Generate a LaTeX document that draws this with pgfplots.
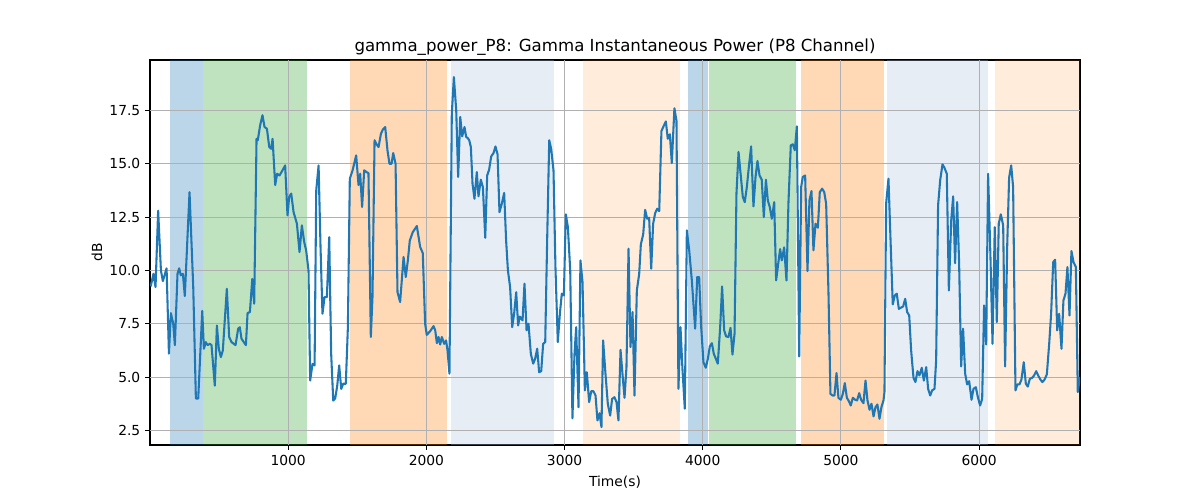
\documentclass[border=0pt]{standalone}
\usepackage{fontspec}
\setmainfont{DejaVu Sans}
\usepackage{pgfplots}
\pgfplotsset{compat=1.18}
\definecolor{tabblue}{RGB}{31,119,180}
\definecolor{tabgreen}{RGB}{44,160,44}
\definecolor{taborange}{RGB}{255,127,14}
\definecolor{lsteel}{RGB}{176,196,222}
\definecolor{gridgray}{RGB}{176,176,176}
\begin{document}
\begin{tikzpicture}
\path[use as bounding box] (0,0) rectangle (12in,5in);
\begin{axis}[
  at={(1.5in,0.55in)}, anchor=south west,
  width=9.3in, height=3.85in, scale only axis,
  xmin=0, xmax=6730, ymin=1.82, ymax=19.86,
  xtick={1000,2000,3000,4000,5000,6000},
  ytick={2.5,5,7.5,10,12.5,15,17.5},
  /pgf/number format/assume math mode=true,
  xticklabel style={/pgf/number format/1000 sep={}},
  yticklabel style={/pgf/number format/fixed,/pgf/number format/fixed zerofill,/pgf/number format/precision=1},
  ticklabel style={font=\fontsize{10}{12}\selectfont},
  tick align=outside, tick pos=left,
  major tick length=3.5pt,
  tick style={black, line width=0.8pt},
  axis line style={black, line width=0.8pt},
  grid=major, grid style={gridgray, line width=0.8pt},
  title={gamma\_power\_P8: Gamma Instantaneous Power (P8 Channel)},
  title style={at={(axis description cs:0.5,1.0)}, anchor=base, yshift=0pt, inner sep=0pt, font=\fontsize{12}{14}\selectfont},
  xlabel={Time(s)},
  xlabel style={at={(axis description cs:0.5,-0.1065)}, anchor=base, inner sep=0pt, font=\fontsize{10}{12}\selectfont},
  ylabel={dB},
  ylabel style={at={(axis description cs:-0.057,0.5)}, anchor=center, inner sep=0pt, font=\fontsize{10}{12}\selectfont},
]
\addplot[fill=tabblue, fill opacity=0.3, draw=none] coordinates {(146,1.82) (146,19.86) (386,19.86) (386,1.82)};
\addplot[fill=tabgreen, fill opacity=0.3, draw=none] coordinates {(386,1.82) (386,19.86) (1139,19.86) (1139,1.82)};
\addplot[fill=taborange, fill opacity=0.3, draw=none] coordinates {(1449,1.82) (1449,19.86) (2148,19.86) (2148,1.82)};
\addplot[fill=lsteel, fill opacity=0.3, draw=none] coordinates {(2177,1.82) (2177,19.86) (2925,19.86) (2925,1.82)};
\addplot[fill=taborange, fill opacity=0.15, draw=none] coordinates {(3134,1.82) (3134,19.86) (3836,19.86) (3836,1.82)};
\addplot[fill=tabblue, fill opacity=0.3, draw=none] coordinates {(3896,1.82) (3896,19.86) (4037,19.86) (4037,1.82)};
\addplot[fill=tabgreen, fill opacity=0.3, draw=none] coordinates {(4044,1.82) (4044,19.86) (4674,19.86) (4674,1.82)};
\addplot[fill=taborange, fill opacity=0.3, draw=none] coordinates {(4712,1.82) (4712,19.86) (5310,19.86) (5310,1.82)};
\addplot[fill=lsteel, fill opacity=0.3, draw=none] coordinates {(5334,1.82) (5334,19.86) (6063,19.86) (6063,1.82)};
\addplot[fill=taborange, fill opacity=0.15, draw=none] coordinates {(6116,1.82) (6116,19.86) (6730,19.86) (6730,1.82)};
% grid lines redrawn above the spans, below the data line
\addplot[gridgray, line width=0.8pt] coordinates {(1000,1.82) (1000,19.86)};
\addplot[gridgray, line width=0.8pt] coordinates {(2000,1.82) (2000,19.86)};
\addplot[gridgray, line width=0.8pt] coordinates {(3000,1.82) (3000,19.86)};
\addplot[gridgray, line width=0.8pt] coordinates {(4000,1.82) (4000,19.86)};
\addplot[gridgray, line width=0.8pt] coordinates {(5000,1.82) (5000,19.86)};
\addplot[gridgray, line width=0.8pt] coordinates {(6000,1.82) (6000,19.86)};
\addplot[gridgray, line width=0.8pt] coordinates {(0,2.5) (6730,2.5)};
\addplot[gridgray, line width=0.8pt] coordinates {(0,5) (6730,5)};
\addplot[gridgray, line width=0.8pt] coordinates {(0,7.5) (6730,7.5)};
\addplot[gridgray, line width=0.8pt] coordinates {(0,10) (6730,10)};
\addplot[gridgray, line width=0.8pt] coordinates {(0,12.5) (6730,12.5)};
\addplot[gridgray, line width=0.8pt] coordinates {(0,15) (6730,15)};
\addplot[gridgray, line width=0.8pt] coordinates {(0,17.5) (6730,17.5)};
\addplot[tabblue, line width=1.5pt, line join=round, mark=none] coordinates {
(5,9.25) (25,9.84) (40,9.22) (59,12.8) (79,10.0) (93,9.5) (120,10.1) (137,6.1) (151,8.0) (168,7.5)
(180,6.5) (199,9.84) (211,10.1) (223,9.77) (238,9.84) (252,8.8) (286,13.67) (313,9.2) (332,4.0) (349,4.0)
(378,8.1) (390,6.33) (404,6.64) (416,6.5) (433,6.56) (445,6.5) (469,4.6) (484,7.42) (498,6.33) (513,5.94)
(527,6.25) (556,9.14) (573,6.88) (590,6.64) (619,6.5) (638,7.27) (650,7.34) (662,6.8) (694,6.5) (706,8.0)
(723,8.05) (740,9.6) (754,8.44) (771,16.17) (780,16.1) (797,16.8) (814,17.27) (829,16.72) (846,16.64) (863,15.78)
(877,15.7) (887,16.17) (906,14.0) (920,14.53) (937,14.45) (959,14.69) (978,14.92) (995,12.58) (1007,13.44) (1022,13.6)
(1039,12.73) (1063,12.19) (1082,10.86) (1099,12.11) (1116,11.33) (1130,10.94) (1147,10.0) (1159,4.84) (1176,5.62) (1191,5.55)
(1203,13.75) (1220,14.92) (1234,11.1) (1248,7.97) (1263,8.75) (1280,8.75) (1297,11.56) (1311,6.1) (1326,3.9) (1340,4.0)
(1355,4.6) (1369,5.55) (1384,4.45) (1398,4.69) (1417,4.69) (1432,7.34) (1446,14.3) (1466,14.69) (1492,15.39) (1509,14.0)
(1521,14.53) (1535,12.97) (1550,14.69) (1569,14.6) (1581,14.56) (1598,6.88) (1610,8.75) (1625,16.1) (1637,15.94) (1654,15.78)
(1671,16.4) (1685,16.6) (1702,16.72) (1719,15.6) (1733,15.0) (1748,15.0) (1760,15.5) (1777,15.0) (1791,8.98) (1810,8.52)
(1835,10.63) (1851,9.69) (1866,10.47) (1880,11.4) (1902,11.8) (1931,12.08) (1955,11.1) (1974,10.81) (1991,7.5) (2003,6.98)
(2028,7.16) (2052,7.39) (2064,7.19) (2076,6.59) (2088,6.88) (2100,6.53) (2112,6.88) (2129,6.56) (2143,6.72) (2153,6.25)
(2167,5.16) (2184,17.34) (2199,19.06) (2216,17.5) (2230,14.38) (2245,17.19) (2259,16.28) (2276,16.72) (2288,16.25) (2300,16.2)
(2310,16.1) (2322,15.78) (2334,14.06) (2348,13.36) (2365,14.61) (2377,13.47) (2394,14.25) (2409,13.9) (2426,11.53) (2440,14.45)
(2454,14.72) (2469,15.34) (2486,15.5) (2500,15.81) (2515,15.44) (2529,12.73) (2546,13.13) (2563,13.63) (2577,11.41) (2590,10.0)
(2606,9.22) (2621,7.34) (2635,7.97) (2650,8.98) (2664,7.42) (2676,7.84) (2696,7.66) (2710,9.38) (2725,7.19) (2739,7.5)
(2756,6.09) (2773,5.63) (2787,5.86) (2802,6.33) (2816,5.23) (2831,5.28) (2845,6.56) (2860,6.64) (2874,11.41) (2889,16.1)
(2903,15.7) (2920,14.69) (2934,10.16) (2951,6.64) (2966,7.97) (2980,8.91) (2995,8.83) (3009,12.63) (3024,12.03) (3041,10.0)
(3057,3.07) (3072,6.1) (3084,7.34) (3101,3.59) (3115,10.47) (3130,9.45) (3147,4.38) (3161,5.23) (3178,3.83) (3193,4.34)
(3209,4.34) (3224,4.14) (3238,2.97) (3253,3.31) (3267,2.66) (3279,6.72) (3296,5.16) (3313,3.75) (3330,3.2) (3344,3.98)
(3361,4.06) (3376,3.83) (3390,2.97) (3405,6.28) (3419,5.16) (3434,4.03) (3448,5.47) (3463,11.02) (3477,6.41) (3492,8.05)
(3506,4.14) (3523,9.06) (3540,9.84) (3552,11.22) (3569,11.69) (3583,12.84) (3598,12.42) (3612,12.47) (3627,10.08) (3641,12.19)
(3656,12.69) (3670,12.89) (3685,12.78) (3701,16.53) (3716,16.75) (3733,16.98) (3747,16.17) (3762,16.38) (3776,15.03) (3795,17.6)
(3810,17.0) (3824,4.45) (3839,7.34) (3853,5.39) (3870,3.52) (3885,11.88) (3902,10.94) (3921,9.53) (3945,7.27) (3960,9.69)
(3974,9.69) (3988,7.42) (4005,5.7) (4022,5.44) (4037,5.86) (4051,6.44) (4066,6.59) (4080,6.09) (4095,5.86) (4109,5.63)
(4126,7.34) (4140,9.25) (4155,7.19) (4169,6.91) (4186,6.88) (4201,7.31) (4215,6.06) (4230,7.03) (4244,13.6) (4259,15.55)
(4276,14.38) (4290,13.44) (4304,13.2) (4319,13.9) (4336,15.0) (4350,15.81) (4367,13.0) (4382,14.38) (4396,15.13) (4411,14.45)
(4427,14.25) (4442,12.5) (4457,14.25) (4471,13.28) (4485,12.97) (4500,12.42) (4517,13.2) (4531,9.53) (4546,10.31) (4560,11.0)
(4572,10.47) (4589,11.08) (4606,9.53) (4620,13.13) (4637,15.86) (4652,15.91) (4666,15.63) (4681,16.75) (4698,5.97) (4712,13.91)
(4724,14.38) (4741,14.45) (4758,9.97) (4772,13.28) (4787,13.72) (4801,10.94) (4816,12.19) (4833,12.0) (4847,13.67) (4864,13.83)
(4879,13.67) (4893,13.13) (4910,8.91) (4924,4.22) (4939,4.14) (4953,4.14) (4968,5.19) (4982,4.03) (4999,3.94) (5014,4.22)
(5028,4.72) (5043,4.03) (5057,3.88) (5071,3.67) (5086,4.03) (5103,3.94) (5117,3.91) (5132,4.25) (5146,3.94) (5163,3.78)
(5178,4.84) (5192,3.91) (5207,3.47) (5221,3.75) (5236,3.16) (5250,3.59) (5264,3.72) (5279,3.05) (5293,3.59) (5308,3.91)
(5315,4.3) (5327,13.13) (5344,14.3) (5359,11.41) (5375,8.41) (5390,8.83) (5404,8.91) (5419,8.2) (5433,8.25) (5450,8.31)
(5465,8.67) (5479,8.05) (5494,7.89) (5508,6.25) (5525,4.97) (5539,4.77) (5554,5.28) (5568,5.08) (5585,5.44) (5600,4.84)
(5617,5.47) (5631,4.45) (5646,4.14) (5660,4.38) (5677,4.45) (5689,5.78) (5703,13.05) (5718,14.22) (5735,14.97) (5749,14.81)
(5766,14.53) (5781,9.06) (5798,12.34) (5812,13.47) (5826,10.34) (5841,13.2) (5855,10.39) (5870,5.5) (5884,7.27) (5899,5.16)
(5913,4.66) (5928,4.81) (5945,3.94) (5959,4.45) (5976,4.53) (5991,4.06) (6007,3.67) (6022,3.98) (6036,8.36) (6051,6.53)
(6065,14.53) (6082,10.63) (6097,6.56) (6113,12.03) (6128,7.58) (6142,12.19) (6157,12.63) (6174,12.11) (6188,5.5) (6203,11.1)
(6217,14.34) (6232,14.92) (6246,13.91) (6263,4.38) (6277,4.66) (6292,4.66) (6306,4.88) (6323,5.7) (6338,4.69) (6352,4.56)
(6367,4.92) (6384,4.97) (6398,5.08) (6413,5.28) (6427,5.08) (6444,4.88) (6458,4.77) (6473,4.88) (6490,5.13) (6507,6.56)
(6521,7.97) (6536,10.39) (6550,10.5) (6565,7.19) (6579,7.97) (6596,6.33) (6610,8.59) (6625,8.91) (6639,10.16) (6654,7.89)
(6668,10.91) (6683,10.39) (6700,10.16) (6714,4.3) (6729,5.0)
};
\end{axis}
\end{tikzpicture}
\end{document}
